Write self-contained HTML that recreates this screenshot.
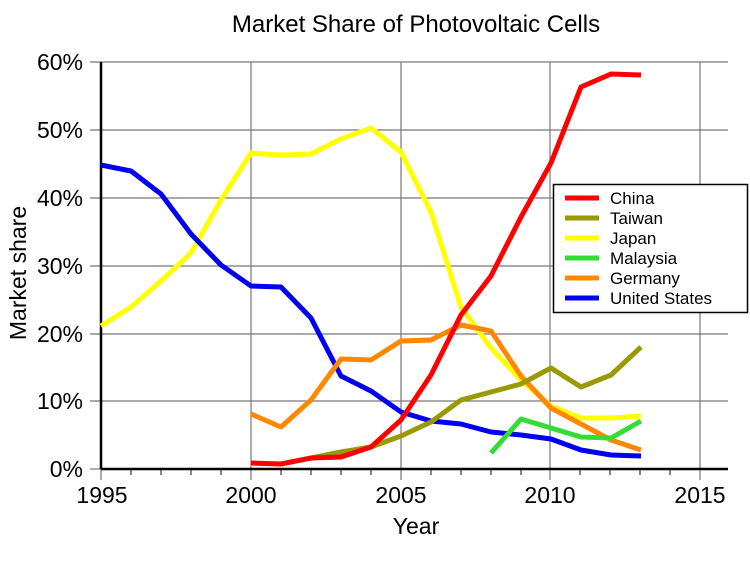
<!DOCTYPE html><html><head><style>body{margin:0;background:#fff}</style></head><body>
<svg width="750" height="560" xmlns="http://www.w3.org/2000/svg" font-family="Liberation Sans, sans-serif">
<rect width="750" height="560" fill="#fff"/>
<text x="416" y="32" font-size="24" text-anchor="middle">Market Share of Photovoltaic Cells</text>
<g stroke="#777" stroke-width="1.2">
<line x1="90" y1="62" x2="728" y2="62"/><line x1="90" y1="130" x2="728" y2="130"/><line x1="90" y1="198" x2="728" y2="198"/><line x1="90" y1="266" x2="728" y2="266"/><line x1="90" y1="334" x2="728" y2="334"/><line x1="90" y1="401" x2="728" y2="401"/>
<line x1="251" y1="62" x2="251" y2="480"/><line x1="401" y1="62" x2="401" y2="480"/><line x1="550" y1="62" x2="550" y2="480"/><line x1="700" y1="62" x2="700" y2="480"/>
<line x1="90" y1="469" x2="101" y2="469"/><line x1="101" y1="469" x2="101" y2="480"/>
</g>
<g stroke="#333" stroke-width="1.2">
<line x1="131" y1="469" x2="131" y2="475"/><line x1="161" y1="469" x2="161" y2="475"/><line x1="191" y1="469" x2="191" y2="475"/><line x1="221" y1="469" x2="221" y2="475"/>
<line x1="281" y1="469" x2="281" y2="475"/><line x1="311" y1="469" x2="311" y2="475"/><line x1="341" y1="469" x2="341" y2="475"/><line x1="371" y1="469" x2="371" y2="475"/>
<line x1="431" y1="469" x2="431" y2="475"/><line x1="461" y1="469" x2="461" y2="475"/><line x1="491" y1="469" x2="491" y2="475"/><line x1="521" y1="469" x2="521" y2="475"/>
<line x1="580" y1="469" x2="580" y2="475"/><line x1="610" y1="469" x2="610" y2="475"/><line x1="640" y1="469" x2="640" y2="475"/><line x1="670" y1="469" x2="670" y2="475"/>
</g>
<g stroke="#000" stroke-width="2.5"><line x1="101" y1="62" x2="101" y2="469"/><line x1="101" y1="469" x2="728" y2="469"/></g>
<g font-size="23" text-anchor="end">
<text x="83" y="70">60%</text><text x="83" y="138">50%</text><text x="83" y="206">40%</text><text x="83" y="274">30%</text><text x="83" y="342">20%</text><text x="83" y="409">10%</text><text x="83" y="477">0%</text></g>
<g font-size="23" text-anchor="middle">
<text x="102" y="503">1995</text><text x="251" y="503">2000</text><text x="401" y="503">2005</text><text x="550" y="503">2010</text><text x="700" y="503">2015</text>
<text x="416" y="534">Year</text>
<text transform="translate(26,273) rotate(-90)">Market share</text></g>
<g fill="none" stroke-width="5" stroke-linejoin="round">
<polyline stroke="#ffff00" points="101,326 131,307 161,281 191,253 221,200 251,153 281,155 311,154 341,139 371,128 401,152 431,212 461,307 491,348 521,380 551,406 581,418 611,418 641,416"/>
<polyline stroke="#0000ee" points="101,165 131,171 161,194 191,234 221,265 251,286 281,287 311,318 341,376 371,391 401,412 431,421 461,424 491,432 521,435 551,439 581,450 611,455 641,456"/>
<polyline stroke="#ff8800" points="251,414 281,427 311,400 341,359 371,360 401,341 431,340 461,325 491,331 521,376 551,408 581,424 611,440 641,450"/>
<polyline stroke="#999900" points="311,458 341,452 371,447 401,436 431,422 461,400 491,392 521,384 551,368 581,387 611,375 641,347"/>
<polyline stroke="#33dd33" points="491,453 521,419 551,428 581,437 611,438 641,421"/>
<polyline stroke="#ff0000" points="251,463 281,464 311,458 341,457 371,447 401,420 431,375 461,315 491,276 521,217 551,163 581,87 611,74 641,75"/>
</g>
<rect x="553.5" y="184.5" width="194" height="128" fill="#fff" stroke="#000" stroke-width="1.5"/>
<g stroke-width="5"><line x1="565" y1="198" x2="599" y2="198" stroke="#ff0000"/><line x1="565" y1="218" x2="599" y2="218" stroke="#999900"/><line x1="565" y1="238" x2="599" y2="238" stroke="#ffff00"/><line x1="565" y1="258" x2="599" y2="258" stroke="#33dd33"/><line x1="565" y1="278" x2="599" y2="278" stroke="#ff8800"/><line x1="565" y1="298" x2="599" y2="298" stroke="#0000ee"/></g>
<g font-size="17"><text x="610" y="204">China</text><text x="610" y="224">Taiwan</text><text x="610" y="244">Japan</text><text x="610" y="264">Malaysia</text><text x="610" y="284">Germany</text><text x="610" y="304">United States</text></g>
</svg></body></html>
